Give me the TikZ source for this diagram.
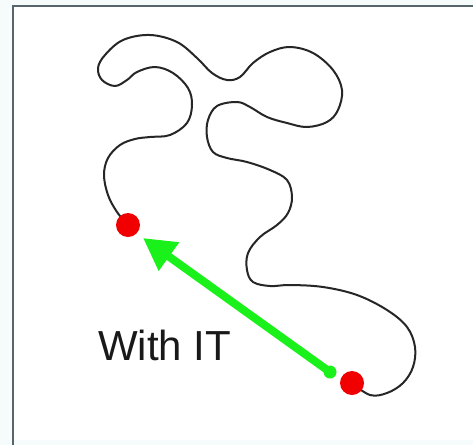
\documentclass[tikz,border=0pt]{standalone}
\usepackage{fontspec}
\setmainfont{Liberation Sans}
\usetikzlibrary{arrows.meta}
\definecolor{pagebg}{HTML}{F6FBFC}
\definecolor{framegray}{HTML}{56666C}
\definecolor{arrowgreen}{HTML}{1AF01A}
\definecolor{dotred}{HTML}{F00000}
\tikzset{
  enddot/.style={circle, fill=dotred, draw=none, minimum size=24pt, inner sep=0pt},
  wire/.style={line width=2pt, draw=black!85, line join=round},
  movearrow/.style={line width=8pt, draw=arrowgreen, line cap=round,
    -{Triangle[length=32pt, width=33pt]}},
}
\begin{document}
\begin{tikzpicture}[x=1pt, y=-1pt]
  % page and panel
  \useasboundingbox (0,0) rectangle (473,445);
  \fill[pagebg] (0,0) rectangle (473,445);
  \fill[white] (13,6) rectangle (473,440);
  \draw[framegray, line width=2.4pt] (13,445) -- (13,6) -- (473,6);

  % end points of the wandering path
  \coordinate (pa) at (128,225);
  \coordinate (pb) at (352,383);

  % the wandering path
  \draw[wire] plot[smooth, tension=0.6] coordinates {
    (128,225) (117,212) (108,195) (104,175) (108,158) (120,145) (135,139)
    (150,137) (170,135) (187,123) (192,105) (188,88) (173,73) (155,67)
    (137,72) (127,80) (115,86) (102,80) (98,68) (105,55) (123,40) (150,35)
    (177,42) (197,58) (212,73) (227,80) (240,77) (253,63) (270,52) (290,47)
    (313,53) (333,70) (342,90) (338,110) (327,122) (307,127) (287,123)
    (267,117) (250,107) (237,102) (217,106) (208,120) (207,137) (213,152)
    (227,158) (247,162) (270,170) (287,180) (292,197) (288,213) (277,225)
    (260,237) (248,253) (247,270) (253,282) (270,286) (290,285) (323,287)
    (357,295) (387,310) (407,327) (415,347) (413,367) (403,383) (387,393)
    (370,395) (352,383)};

  % the two ends
  \node[enddot] (a) at (pa) {};
  \node[enddot] (b) at (pb) {};

  % shortcut arrow
  \coordinate (s) at (330,372);
  \coordinate (t) at (143,238);
  \fill[arrowgreen] (s) circle (6.5pt);
  \draw[movearrow] (s) -- (t);

  % label
  \node[anchor=base west, inner sep=0pt, font=\fontsize{42}{48}\selectfont,
        text=black!90] (lbl) at (98,360) {With IT};
\end{tikzpicture}
\end{document}
